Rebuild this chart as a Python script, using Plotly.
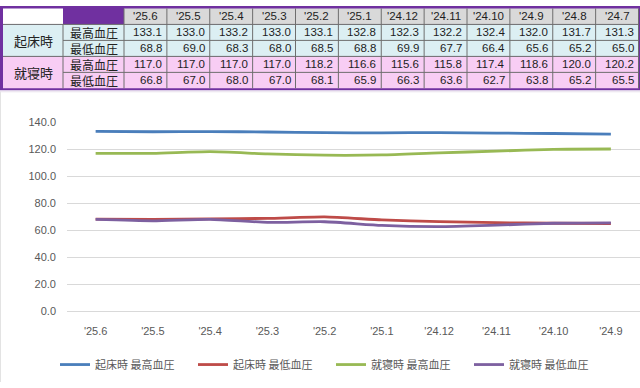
import plotly.graph_objects as go

# ---------------- data ----------------
months = ["'25.6", "'25.5", "'25.4", "'25.3", "'25.2", "'25.1",
          "'24.12", "'24.11", "'24.10", "'24.9", "'24.8", "'24.7"]
wake_sys = [133.1, 133.0, 133.2, 133.0, 133.1, 132.8, 132.3, 132.2, 132.4, 132.0, 131.7, 131.3]
wake_dia = [68.8, 69.0, 68.3, 68.0, 68.5, 68.8, 69.9, 67.7, 66.4, 65.6, 65.2, 65.0]
bed_sys = [117.0, 117.0, 117.0, 117.0, 118.2, 116.6, 115.6, 115.8, 117.4, 118.6, 120.0, 120.2]
bed_dia = [66.8, 67.0, 68.0, 67.0, 68.1, 65.9, 66.3, 63.6, 62.7, 63.8, 65.2, 65.5]

group_labels = ["起床時", "就寝時"]
row_labels = ["最高血圧", "最低血圧"]
series_names = ["起床時 最高血圧", "起床時 最低血圧", "就寝時 最高血圧", "就寝時 最低血圧"]

# chart shows 10 categories; values drawn are the table columns offset by 2
chart_labels = months[:10]
CHART_OFFSET = 2
series_values = [wake_sys, wake_dia, bed_sys, bed_dia]
colors = ["#4A7EBB", "#BE4B48", "#98B954", "#7D60A0"]

W, H = 640, 388


def px(x):
    return x / W


def py(y):
    return 1 - y / H


fig = go.Figure()

for name, vals, col in zip(series_names, series_values, colors):
    fig.add_trace(go.Scatter(
        x=chart_labels, y=vals[CHART_OFFSET:CHART_OFFSET + len(chart_labels)],
        mode="lines", name=name,
        line=dict(color=col, width=2.8, shape="spline", smoothing=0.6),
    ))

shapes = []
annotations = []

# ---------------- table ----------------
PURPLE = "#7030A0"
BLUE_BG = "#DCEFF3"
PINK_BG = "#F8CDF4"
GRAY_BG = "#D9D9D9"
BORDER = "#6E6E6E"

x_left, x_lab, x_sub, x_right = 3, 63, 124, 638.5
ncol = len(months)
colw = (x_right - x_sub) / ncol
rows_y = [2.5, 19, 35.5, 52, 68.5, 85]  # header, r1, r2, r3, r4 boundaries


def rect(x0, y0, x1, y1, fill, line_color=None, lw=0):
    shapes.append(dict(type="rect", xref="paper", yref="paper",
                       x0=px(x0), x1=px(x1), y0=py(y1), y1=py(y0),
                       fillcolor=fill, line=dict(color=line_color or fill, width=lw), layer="above"))


def line(x0, y0, x1, y1, color=BORDER, width=1):
    shapes.append(dict(type="line", xref="paper", yref="paper",
                       x0=px(x0), x1=px(x1), y0=py(y0), y1=py(y1),
                       line=dict(color=color, width=width), layer="above"))


# outer purple frame
rect(0, 0, 640, 87, PURPLE)
# header row
rect(x_left, rows_y[0], x_lab, rows_y[1], "white")
rect(x_lab, 0, x_sub, rows_y[1], PURPLE)
rect(x_sub, rows_y[0], x_right, rows_y[1], GRAY_BG)
# body
rect(x_left, rows_y[1], x_right, rows_y[3], BLUE_BG)
rect(x_left, rows_y[3], x_right, rows_y[5], PINK_BG)

# grid lines
for i in range(ncol + 1):
    xx = x_sub + i * colw
    line(xx, rows_y[0], xx, rows_y[5])
line(x_lab, rows_y[1], x_lab, rows_y[5])
line(x_left, rows_y[1], x_right, rows_y[1])
line(x_lab, rows_y[2], x_right, rows_y[2])
line(x_left, rows_y[3], x_right, rows_y[3])
line(x_lab, rows_y[4], x_right, rows_y[4])

NUM_FONT = dict(family="Liberation Sans, Arial, sans-serif", size=11.5, color="#1E1E1E")
CJK_FONT = dict(family="Noto Sans CJK JP, sans-serif", size=12, color="#222222")
CJK_BIG = dict(family="Noto Sans CJK JP, sans-serif", size=13, color="#222222")

for i, m in enumerate(months):
    cx = x_sub + (i + 0.5) * colw
    annotations.append(dict(text=m, x=px(cx), y=py((rows_y[0] + rows_y[1]) / 2),
                            xref="paper", yref="paper", showarrow=False, borderpad=0,
                            xanchor="center", yanchor="middle", font=NUM_FONT))

for g, glab in enumerate(group_labels):
    cy = (rows_y[1 + 2 * g] + rows_y[3 + 2 * g]) / 2
    annotations.append(dict(text=glab, x=px((x_left + x_lab) / 2), y=py(cy),
                            xref="paper", yref="paper", showarrow=False, borderpad=0,
                            xanchor="center", yanchor="middle", font=CJK_BIG))

for r in range(4):
    cy = (rows_y[1 + r] + rows_y[2 + r]) / 2
    annotations.append(dict(text=row_labels[r % 2], x=px((x_lab + x_sub) / 2), y=py(cy),
                            xref="paper", yref="paper", showarrow=False, borderpad=0,
                            xanchor="center", yanchor="middle", font=CJK_FONT))
    vals = series_values[r]
    for i, v in enumerate(vals):
        rx = x_sub + (i + 1) * colw - 4
        annotations.append(dict(text=f"{v:.1f}", x=px(rx), y=py(cy),
                                xref="paper", yref="paper", showarrow=False, borderpad=0,
                                xanchor="right", yanchor="middle", font=NUM_FONT))

# faint chart border
line(0.5, 88, 0.5, 388, color="#E3E3E3", width=1)
line(0, 88.5, 640, 88.5, color="#E8E0EC", width=1)

AX_FONT = dict(family="Liberation Sans, Noto Sans CJK JP, sans-serif", size=11, color="#595959")

fig.update_layout(
    width=W, height=H,
    margin=dict(l=0, r=0, t=0, b=0),
    paper_bgcolor="white", plot_bgcolor="white",
    showlegend=True,
    shapes=shapes, annotations=annotations,
    xaxis=dict(domain=[px(67), px(639.5)], range=[-0.5, 9.5], type="category",
               showgrid=False, showline=False, zeroline=False, ticks="",
               tickfont=AX_FONT, ticklabelstandoff=12),
    yaxis=dict(domain=[py(315), py(120)], range=[0, 140], dtick=20, tickformat=".1f",
               showgrid=True, gridcolor="#D9D9D9", gridwidth=1,
               zeroline=True, zerolinecolor="#D9D9D9", zerolinewidth=1,
               showline=False, ticks="", tickfont=AX_FONT, ticklabelstandoff=10),
    legend=dict(orientation="h", x=px(55), xanchor="left", y=py(370), yanchor="middle",
                font=dict(family="Noto Sans CJK JP, sans-serif", size=11, color="#595959"),
                entrywidth=93, entrywidthmode="pixels", bgcolor="rgba(0,0,0,0)",
                itemclick=False),
)

POST = (
    "document.documentElement.style.margin='0';"
    "document.documentElement.style.padding='0';"
    "document.documentElement.style.overflow='hidden';"
    "document.body.style.margin='0';"
    "document.body.style.padding='0';"
    "document.body.style.overflow='hidden';"
    "var g=document.getElementsByClassName('plotly-graph-div')[0];"
    "if(g){g.style.position='absolute';g.style.left='0px';g.style.top='0px';}"
)

fig.write_html("out.html", config={"displayModeBar": False, "responsive": False},
               post_script=POST)
